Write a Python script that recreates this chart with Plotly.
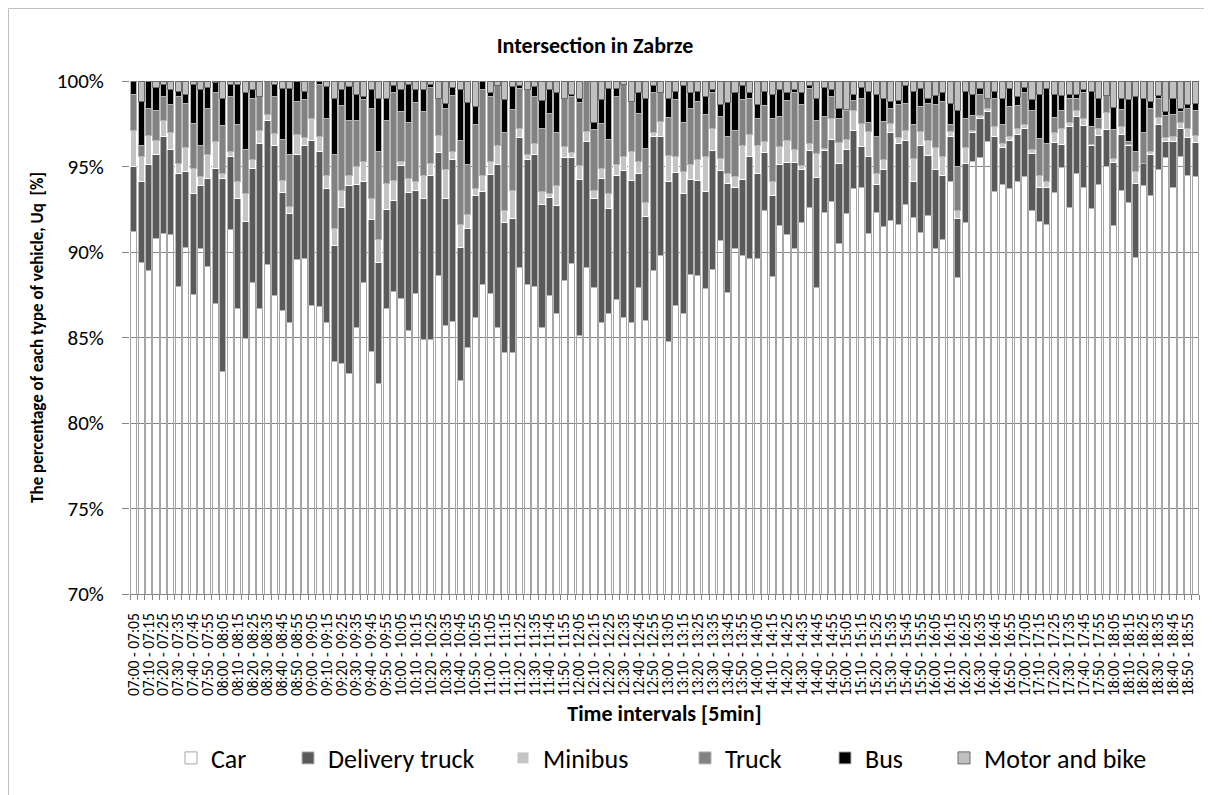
import plotly.graph_objects as go

# 5-minute intervals 07:00 - 18:55
starts = [f"{h:02d}:{m:02d}" for h in range(7, 19) for m in range(0, 60, 5)]
ends = starts[1:] + ["19:00"]
intervals = [f"{a} - {b}" for a, b in zip(starts, ends)]

car = [91.2, 89.4, 88.9, 90.8, 91.1, 91.0, 88.0, 90.25, 87.5, 90.2, 89.15, 87.0,
       83.0, 91.3, 86.7, 84.95, 88.2, 86.7, 89.25, 87.45, 86.6, 85.9, 89.55, 89.6,
       86.9, 86.8, 85.9, 83.6, 83.5, 82.9, 85.6, 88.2, 84.2, 82.3, 86.7, 87.7,
       87.3, 85.4, 87.6, 84.9, 84.9, 88.65, 85.7, 85.95, 82.5, 84.4, 86.15, 88.1,
       87.6, 85.6, 84.1, 84.1, 89.1, 88.1, 88.0, 85.6, 87.45, 86.4, 88.35, 89.3,
       85.1, 89.1, 87.9, 85.9, 86.4, 87.25, 86.15, 85.9, 87.9, 86.0, 88.9, 89.8,
       84.75, 86.9, 86.4, 88.7, 88.65, 87.85, 88.95, 90.7, 87.65, 90.2, 89.8, 89.6,
       89.6, 92.4, 88.55, 91.55, 91.05, 90.2, 91.7, 92.6, 87.9, 92.35, 92.95, 90.5,
       92.25, 93.7, 93.8, 91.1, 92.3, 91.5, 91.85, 91.6, 92.85, 92.0, 91.25, 92.15,
       90.2, 90.75, 94.15, 88.5, 91.7, 95.3, 95.5, 96.45, 93.55, 93.95, 93.7, 94.15,
       94.4, 92.45, 91.8, 91.6, 93.5, 94.95, 92.6, 94.6, 93.75, 92.55, 93.95, 95.0,
       91.55, 93.6, 92.95, 89.65, 93.9, 93.3, 94.85, 95.5, 93.75, 95.6, 94.5, 94.4]

delivery = [3.8, 4.7, 6.2, 4.9, 5.65, 5.0, 6.6, 4.45, 5.9, 3.7, 5.15, 7.9,
            11.3, 4.3, 6.4, 6.85, 6.7, 9.65, 8.45, 8.8, 6.9, 6.35, 6.15, 6.6,
            9.6, 9.1, 7.8, 6.8, 9.1, 11.0, 8.35, 5.95, 7.7, 7.1, 5.8, 5.3,
            7.75, 8.1, 6.0, 8.2, 9.6, 7.15, 7.4, 9.45, 7.75, 7.0, 7.15, 5.45,
            6.95, 9.5, 7.6, 7.85, 7.6, 7.3, 7.7, 7.2, 5.75, 6.3, 7.15, 6.2,
            9.15, 7.35, 5.2, 8.4, 6.15, 7.2, 8.6, 8.3, 6.7, 6.05, 7.85, 6.95,
            9.35, 7.75, 7.05, 5.55, 5.55, 5.7, 7.0, 4.05, 6.35, 3.55, 4.45, 6.0,
            5.0, 3.4, 4.75, 3.55, 4.2, 5.05, 3.1, 3.35, 6.45, 3.65, 3.65, 4.65,
            3.75, 3.4, 2.35, 4.5, 1.65, 3.3, 5.15, 4.75, 3.7, 2.1, 5.05, 3.5,
            4.65, 3.75, 2.6, 3.45, 3.5, 1.7, 2.3, 1.75, 3.2, 2.15, 2.8, 2.75,
            2.85, 3.3, 2.0, 2.15, 2.9, 1.35, 4.75, 3.35, 3.65, 3.65, 2.85, 2.15,
            3.7, 3.25, 3.3, 4.35, 1.25, 2.4, 2.6, 0.95, 2.7, 1.6, 2.2, 2.0]

minibus = [2.1, 1.5, 1.7, 0.8, 0.95, 1.0, 0.6, 1.4, 1.5, 0.5, 1.4, 1.55,
           0.3, 0.3, 1.05, 1.6, 0.5, 0.75, 0.35, 0.7, 0.7, 0.4, 1.2, 0.5,
           1.3, 0.85, 0.8, 1.0, 1.0, 0.6, 1.05, 1.15, 1.2, 1.35, 1.5, 1.2,
           0.25, 0.8, 0.55, 1.35, 0.7, 1.0, 1.7, 0.5, 1.35, 0.8, 0.4, 0.95,
           0.75, 1.15, 0.75, 1.65, 0.5, 0.3, 0.65, 0.75, 0.25, 1.2, 0.65, 0.3,
           0.8, 0.6, 0.5, 0.6, 0.85, 0.65, 0.85, 1.65, 0.7, 0.85, 0.25, 0.9,
           1.55, 0.95, 1.25, 0.85, 1.2, 2.05, 1.3, 0.7, 0.6, 0.65, 1.95, 1.25,
           1.65, 0.65, 0.85, 1.05, 1.25, 0.75, 0.25, 0.4, 1.4, 0.1, 1.2, 1.25,
           0.6, 1.15, 1.35, 1.45, 0.65, 0.6, 0.5, 0.35, 0.6, 1.35, 0.85, 0.85,
           1.25, 1.1, 0.3, 0.45, 0.9, 0.1, 0.2, 0.2, 0.6, 0.25, 0.25, 0.35,
           0.2, 0.25, 0.7, 0.4, 0.6, 0.95, 0.25, 0.3, 0.4, 0.1, 0.4, 1.0,
           0.2, 0.5, 0.1, 0.7, 0.05, 0.2, 0.4, 0.25, 0.3, 0.4, 0.5, 0.4]

truck = [2.1, 0.6, 1.6, 1.75, 1.4, 1.6, 3.9, 2.6, 2.6, 1.8, 2.7, 2.85,
         2.8, 3.2, 3.3, 2.6, 3.6, 2.0, 1.95, 2.15, 2.4, 3.05, 1.9, 2.2,
         2.2, 3.05, 3.3, 4.3, 4.95, 3.2, 2.7, 3.6, 5.3, 5.15, 3.7, 5.1,
         2.9, 3.3, 4.6, 3.75, 4.4, 2.2, 3.6, 3.25, 4.95, 2.9, 3.75, 5.0,
         3.8, 3.5, 4.55, 4.75, 2.35, 3.8, 2.75, 3.65, 4.65, 3.1, 2.8, 3.3,
         3.7, 2.95, 3.55, 2.6, 3.2, 4.0, 4.2, 2.95, 2.8, 3.15, 2.3, 1.7,
         2.2, 3.3, 2.9, 3.3, 3.4, 2.45, 2.05, 2.5, 2.15, 2.7, 2.7, 2.1,
         1.55, 2.1, 3.65, 1.75, 2.35, 3.3, 3.6, 3.2, 1.95, 1.9, 1.3, 1.4,
         1.65, 0.6, 1.45, 0.55, 2.15, 2.25, 0.9, 1.9, 1.6, 2.0, 1.45, 2.2,
         2.5, 3.2, 0.4, 2.6, 1.7, 0.9, 1.2, 0.6, 1.6, 1.1, 1.75, 1.3,
         1.9, 2.25, 2.15, 2.2, 0.85, 1.0, 1.35, 0.75, 1.55, 1.05, 0.6, 1.0,
         1.7, 1.0, 0.15, 1.15, 1.8, 2.5, 1.1, 1.3, 1.3, 0.6, 1.2, 1.5]

bus = [0.8, 2.6, 1.6, 1.35, 0.7, 0.9, 0.3, 0.5, 2.3, 3.3, 1.2, 0.6,
       1.6, 0.7, 2.35, 3.3, 0.5, 0.0, 0.0, 0.7, 2.95, 3.85, 1.15, 0.5,
       0.0, 0.2, 1.9, 3.3, 0.95, 2.0, 1.5, 0.2, 1.1, 3.05, 1.25, 0.45,
       1.3, 2.2, 0.75, 1.3, 0.2, 0.0, 0.3, 0.45, 2.95, 3.65, 1.05, 0.5,
       0.2, 0.0, 1.9, 1.3, 0.2, 0.0, 0.6, 1.65, 1.4, 2.3, 0.0, 0.1,
       0.2, 0.0, 0.45, 1.4, 2.95, 0.45, 0.0, 0.0, 1.2, 2.9, 0.45, 0.0,
       1.15, 0.5, 2.15, 0.9, 0.6, 1.05, 0.2, 0.7, 2.0, 2.25, 0.85, 0.4,
       0.85, 0.85, 1.4, 1.6, 0.45, 0.2, 0.65, 0.2, 1.25, 1.65, 0.4, 0.6,
       0.1, 0.35, 0.65, 1.8, 2.45, 1.35, 0.4, 0.25, 1.05, 1.95, 1.05, 0.3,
       0.55, 0.5, 1.25, 3.25, 1.6, 1.2, 0.35, 0.0, 0.45, 1.5, 1.05, 0.55,
       0.25, 0.65, 2.55, 3.2, 1.35, 0.9, 0.25, 0.2, 0.15, 2.05, 1.15, 0.0,
       1.3, 0.6, 2.45, 3.25, 2.0, 0.4, 0.2, 0.2, 0.9, 0.2, 0.2, 0.4]

motor = [0.0, 1.2, 0.0, 0.4, 0.2, 0.5, 0.6, 0.8, 0.2, 0.5, 0.4, 0.1,
         1.0, 0.2, 0.2, 0.7, 0.5, 0.9, 0.0, 0.2, 0.45, 0.45, 0.05, 0.6,
         0.0, 0.0, 0.3, 1.0, 0.5, 0.3, 0.8, 0.9, 0.5, 1.05, 1.05, 0.25,
         0.5, 0.2, 0.5, 0.5, 0.2, 1.0, 1.3, 0.4, 0.5, 1.25, 1.5, 0.0,
         0.7, 0.25, 1.1, 0.35, 0.25, 0.5, 0.3, 1.15, 0.5, 0.7, 1.05, 0.8,
         1.05, 0.0, 2.4, 1.1, 0.45, 0.45, 0.2, 1.2, 0.7, 1.05, 0.25, 0.65,
         1.0, 0.6, 0.25, 0.7, 0.6, 0.9, 0.5, 1.35, 1.25, 0.65, 0.25, 0.65,
         1.35, 0.6, 0.8, 0.5, 0.7, 0.5, 0.7, 0.25, 1.05, 0.4, 0.5, 1.6,
         1.65, 0.8, 0.4, 0.6, 0.8, 1.0, 1.2, 1.15, 0.25, 0.6, 0.45, 1.0,
         0.85, 0.7, 1.3, 1.75, 0.6, 0.8, 0.45, 1.0, 0.6, 1.05, 0.45, 0.9,
         0.4, 1.1, 0.8, 0.45, 0.8, 0.85, 0.8, 0.8, 0.5, 0.6, 1.05, 0.85,
         1.55, 1.05, 1.1, 0.9, 1.0, 1.2, 0.85, 1.8, 1.05, 1.6, 1.4, 1.3]

y_ticks = [70, 75, 80, 85, 90, 95, 100]
y_labels = ["70%", "75%", "80%", "85%", "90%", "95%", "100%"]

series = [
    ("Car", car, "rgba(255,255,255,0)", "#A6A6A6"),
    ("Delivery truck", delivery, "#5A5A5A", "#B4B4B4"),
    ("Minibus", minibus, "#C4C4C4", "#FFFFFF"),
    ("Truck", truck, "#828282", "#B4B4B4"),
    ("Bus", bus, "#000000", "#B4B4B4"),
    ("Motor and bike", motor, "#C0C0C0", "#6A6A6A"),
]
legend_x = [171, 288, 503, 685, 825, 944]

# the page puts the figure 8 px in from the top-left corner
OFF = 8
W, H = 1212 - OFF, 795 - OFF
L, R, T, B = 130, 1199, 81, 594
px = lambda x: (x - L) / (R - L)
py = lambda y: (B - y) / (B - T)

xs = list(range(len(intervals)))
fig = go.Figure()
layout_legends = {}
for k, (name, vals, fill, edge) in enumerate(series):
    lg = "legend" if k == 0 else f"legend{k + 1}"
    fig.add_trace(go.Bar(x=xs, y=vals, name=name, legend=lg,
                         marker=dict(color=fill, line=dict(color=edge, width=1))))
    layout_legends[lg] = dict(x=px(legend_x[k]), y=py(758), xanchor="left", yanchor="middle",
                              orientation="h", font=dict(size=26, color="#000"),
                              bgcolor="rgba(0,0,0,0)", itemwidth=30)

fig.update_layout(
    width=W, height=H, showlegend=True,
    margin=dict(l=L - OFF, r=1212 - R, t=T - OFF, b=795 - B),
    barmode="stack", barnorm="percent", bargap=0.18,
    plot_bgcolor="white", paper_bgcolor="white",
    font=dict(family="Carlito, Lato, sans-serif", color="#000"),
    title=dict(text="Intersection in Zabrze", x=(595 - OFF) / W, y=1 - (45 - OFF) / H,
               xanchor="center", yanchor="middle", xref="container", yref="container",
               font=dict(size=22, weight="bold")),
    xaxis=dict(range=[-0.5, len(xs) - 0.5], tickmode="array", tickvals=xs[::2],
               ticktext=intervals[::2], tickangle=-90, tickfont=dict(size=15.5),
               ticks="", ticklabelstandoff=12, showgrid=False, zeroline=False,
               showline=True, linecolor="#868686", linewidth=1,
               minor=dict(ticks="outside", ticklen=5, tickcolor="#868686",
                          tickmode="linear", tick0=-0.5, dtick=1),
               title=dict(text="Time intervals [5min]", standoff=10,
                          font=dict(size=22, weight="bold"))),
    yaxis=dict(range=[70, 100], tickmode="array", tickvals=y_ticks, ticktext=y_labels,
               tickfont=dict(size=21), ticks="outside", ticklen=7, tickcolor="#868686",
               ticklabelstandoff=14, showgrid=True, gridcolor="#868686", gridwidth=1,
               zeroline=False, showline=False,
               title=dict(text="The percentage of each type of vehicle, Uq  [%]", standoff=8,
                          font=dict(size=17, weight="bold"))),
    shapes=[dict(type="rect", xref="paper", yref="paper", x0=px(8.5), x1=px(1230),
                 y0=py(810), y1=py(8.5), line=dict(color="#BFBFBF", width=1), layer="below")],
    **layout_legends,
)

fig.write_html("out.html")
